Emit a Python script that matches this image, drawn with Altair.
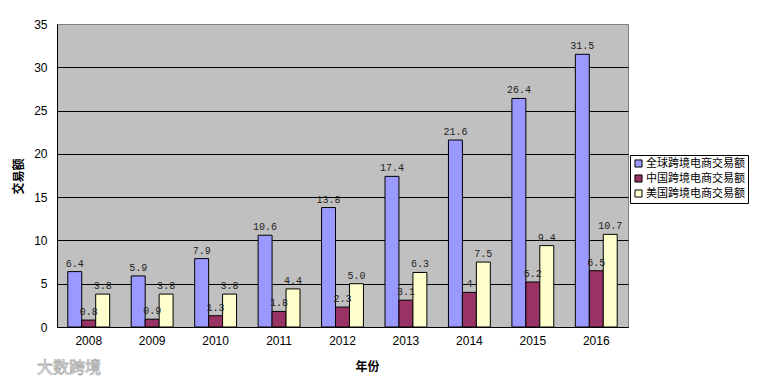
import altair as alt
import pandas as pd

years = ["2008", "2009", "2010", "2011", "2012", "2013", "2014", "2015", "2016"]
series_names = ["全球跨境电商交易额", "中国跨境电商交易额", "美国跨境电商交易额"]
global_vals = [6.4, 5.9, 7.9, 10.6, 13.8, 17.4, 21.6, 26.4, 31.5]
china_vals = [0.8, 0.9, 1.3, 1.8, 2.3, 3.1, 4.0, 5.2, 6.5]
us_vals = [3.8, 3.8, 3.8, 4.4, 5.0, 6.3, 7.5, 9.4, 10.7]
global_labels = ["6.4", "5.9", "7.9", "10.6", "13.8", "17.4", "21.6", "26.4", "31.5"]
china_labels = ["0.8", "0.9", "1.3", "1.8", "2.3", "3.1", "4", "5.2", "6.5"]
us_labels = ["3.8", "3.8", "3.8", "4.4", "5.0", "6.3", "7.5", "9.4", "10.7"]
colors = ["#9999FF", "#993366", "#FFFFCC"]

rows = []
for vals, labs, name in [(global_vals, global_labels, series_names[0]),
                         (china_vals, china_labels, series_names[1]),
                         (us_vals, us_labels, series_names[2])]:
    for y, v, l in zip(years, vals, labs):
        rows.append({"year": y, "series": name, "value": v, "label": l})
df = pd.DataFrame(rows)

PW, PH = 571, 303
cjk = "Noto Sans CJK SC"

x_enc = alt.X("year:N", sort=years,
              scale=alt.Scale(paddingInner=0.34, paddingOuter=0.17),
              axis=alt.Axis(title="年份", titleFont=cjk, titleFontSize=12, titleFontWeight="bold",
                            titleColor="black", titleX=310, titleY=39, titleBaseline="middle",
                            titleAlign="center",
                            labelAngle=0, labelFont="Liberation Sans", labelFontSize=12,
                            labelColor="black", labelPadding=8, ticks=False,
                            domainColor="black", domainWidth=1))
xoff = alt.XOffset("series:N", sort=series_names,
                   scale=alt.Scale(paddingInner=0, paddingOuter=0))
y_enc = alt.Y("value:Q", scale=alt.Scale(domain=[0, 35], nice=False),
              axis=alt.Axis(title="交易额", values=[0, 5, 10, 15, 20, 25, 30, 35],
                            titleFont=cjk, titleFontSize=12, titleFontWeight="bold",
                            titleColor="black", titleX=-39, titleY=152, titleAngle=-90,
                            titleAlign="center", titleBaseline="middle",
                            labelFont="Liberation Sans", labelFontSize=12, labelColor="black",
                            labelPadding=10, ticks=False, grid=True,
                            gridColor={"condition": {"test": "datum.value == 35", "value": "#808080"},
                                       "value": "black"},
                            gridWidth=1, domainColor="black", domainWidth=1))

bars = alt.Chart(df).mark_bar(stroke="black", strokeWidth=1).encode(
    x=x_enc, xOffset=xoff, y=y_enc,
    color=alt.Color("series:N", sort=series_names,
                    scale=alt.Scale(domain=series_names, range=colors),
                    legend=alt.Legend(title=None, orient="none", legendX=573, legendY=131,
                                      symbolType="square", symbolSize=50,
                                      symbolStrokeColor="black", symbolStrokeWidth=1,
                                      symbolOpacity=1,
                                      labelFont=cjk, labelFontSize=11, labelColor="black",
                                      labelOffset=2, rowPadding=2,
                                      fillColor="white", strokeColor="black",
                                      padding=3)),
)

texts = alt.Chart(df).mark_text(baseline="bottom", dy=-3, font="Liberation Mono",
                                fontSize=10, color="#222").encode(
    x=alt.X("year:N", sort=years), xOffset=alt.XOffset("series:N", sort=series_names),
    y=alt.Y("value:Q"), text="label:N")

watermark = alt.Chart(pd.DataFrame({"t": ["大数跨境"]})).mark_text(
    font=cjk, fontSize=16, fill="white", stroke="#b0b0b0", strokeWidth=0.8,
    align="center", baseline="middle").encode(
    x=alt.value(12), y=alt.value(344), text="t:N")

chart = alt.layer(bars, texts, watermark).resolve_scale(x="shared").properties(
    width=PW, height=PH,
    autosize=alt.AutoSizeParams(type="none"),
    padding={"left": 49, "top": 16, "right": 121, "bottom": 50},
    background="white",
).configure_view(fill="#C0C0C0", stroke="#808080", strokeWidth=1)

chart.save("out.html", embed_options={"renderer": "svg", "actions": False})
